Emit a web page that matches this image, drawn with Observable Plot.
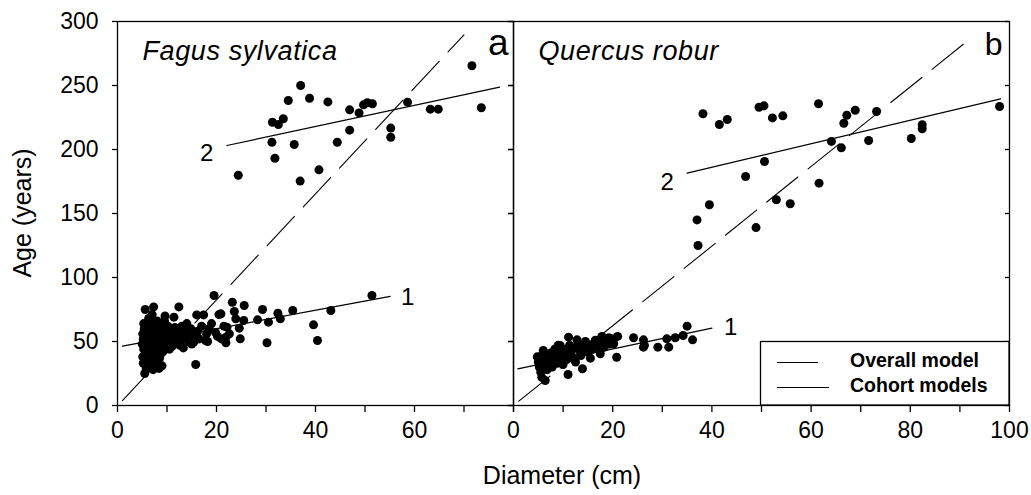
<!DOCTYPE html>
<html><head><meta charset="utf-8">
<script src="https://cdn.jsdelivr.net/npm/d3@7"></script>
<script src="https://cdn.jsdelivr.net/npm/@observablehq/plot@0.6"></script>
<style>
body{margin:0;background:#fff;}
#wrap{position:relative;width:1031px;height:495px;font-family:"Liberation Sans",Arial,sans-serif;}
#wrap > *{position:absolute;top:0;}
.species text{letter-spacing:0.6px;}
</style></head><body><div id="wrap"></div>
<script>
// ---- tick values ----
const ageTicks = [0, 50, 100, 150, 200, 250, 300];
const fagusXTicks = [0, 10, 20, 30, 40, 50, 60, 70, 80];
const fagusXLabels = [0, 20, 40, 60];
const quercusXTicks = [0, 10, 20, 30, 40, 50, 60, 70, 80, 90, 100];
const quercusXLabels = [0, 20, 40, 60, 80, 100];

// ---- Fagus sylvatica: [diameter cm, age years] ----
const fagusCohort1 = [
  [5.2,33],[5.1,38],[5.3,44],[5.0,48],[5.2,52],[5.1,56],[5.4,60],[5.3,64],[5.6,75],[5.5,25],
  [5.8,29],[5.9,36],[5.7,41],[6.0,47],[5.8,51],[6.1,55],[6.0,58],[6.2,63],[6.3,68],[6.5,31],
  [6.6,39],[6.4,43],[6.7,49],[6.5,53],[6.8,57],[6.9,61],[6.6,66],[7.0,71],[7.2,28],[7.1,34],
  [7.3,45],[7.4,50],[7.2,54],[7.5,59],[7.3,77],[7.6,63],[7.8,33],[7.9,40],[8.0,46],[7.8,52],
  [8.1,56],[8.2,61],[8.0,66],[8.4,29],[8.5,37],[8.3,43],[8.6,49],[8.7,54],[8.5,58],[8.8,64],
  [9.0,31],[9.1,42],[9.2,47],[9.0,51],[9.3,55],[9.4,60],[9.6,70],[9.5,66],[9.8,45],[10.0,50],
  [9.9,53],[10.1,57],[10.2,62],[10.4,48],[10.5,44],[10.6,54],[10.8,59],[11.0,46],[11.2,51],[11.4,69],
  [11.1,56],[11.6,61],[11.8,49],[12.0,53],[12.4,77],[12.2,58],[12.6,47],[12.8,55],[13.0,62],[13.3,45],
  [13.5,52],[13.8,58],[14.0,64],[14.3,50],[14.5,56],[14.8,60],[15.0,48],[15.4,49.5],[15.8,32],[15.6,54],
  [16.0,70.8],[16.2,58],[16.5,52],[17.0,62],[17.4,70.8],[17.8,50.8],[18.0,56],[18.5,60],[18.2,50],[19.0,64],
  [19.5,85.9],[19.8,57],[20.2,54],[20.9,71.6],[20.5,71],[21.0,52],[21.5,62],[21.9,53.4],[21.9,49],[22.1,61.2],
  [22.6,56],[23.2,80.7],[23.6,73.4],[23.9,67.7],[24.6,60.4],[24.8,52.1],[25.5,66.4],[25.6,78.1],[28.3,66.9],[29.3,75],
  [30.2,49],[30.5,65.1],[32.4,72.1],[32.9,67.7],[35.4,74.2],[39.6,63],[40.4,50.8],[43.1,74.2],[51.4,85.9]
];
const fagusCohort2 = [
  [24.4,179.9],[31.2,205.7],[31.8,193.2],[31.3,221.3],[32.5,219.5],[33.5,224],[34.5,238.3],[35.7,203.9],
  [36.9,175.3],[37.0,250],[38.8,240],[40.7,184.1],[42.5,237.2],[44.4,205.7],[46.9,231],[46.9,215.1],
  [48.8,228.6],[49.7,234.9],[50.5,236.5],[51.5,235.7],[55.2,216.7],[55.2,209.6],[58.6,237],[63.2,231.5],
  [64.8,231.5],[71.6,265.4],[73.5,232.6]
];
const fagusOverall = [[1.0,3.9],[70.0,289.6]];
const fagusModel1 = [[1.0,46.4],[55.1,85.2]];
const fagusModel2 = [[22.1,203.1],[77.2,248.7]];
const fagusLabels = [[58.6,84.6,"1"],[18.0,197,"2"]];

// ---- Quercus robur: [diameter cm, age years] ----
const quercusCohort1 = [
  [4.8,38],[5.0,34],[5.2,30],[5.5,26],[5.7,22],[6.4,19.5],[5.9,40],[6.2,36],[6.5,32],[6.8,28],
  [6.0,43],[7.0,38],[7.3,34],[7.5,41],[7.8,30],[8.0,36],[8.3,44],[8.6,39],[8.8,33],[9.0,47],
  [9.4,46.9],[9.2,42],[9.6,37],[10.0,32],[10.2,44],[10.5,40],[10.8,36],[11.0,24.2],[11.1,53.4],[11.3,47],
  [11.6,42],[11.9,38],[12.2,45],[12.8,51.3],[12.5,34],[13.0,48],[13.3,43],[13.6,39],[13.9,28.7],[14.2,46],
  [14.5,50],[14.8,42],[15.2,47],[15.5,37],[15.8,44],[16.1,48.2],[16.5,51],[17.0,45],[17.4,49.5],[17.5,40.4],
  [17.8,54],[18.3,45.6],[18.6,50],[19.2,52.9],[19.5,48],[20.2,48.2],[20.2,52.1],[20.8,37.7],[21.0,54],[24.2,52.9],
  [26.2,51.3],[26.2,45.6],[26.4,47],[29.1,45.6],[30.9,52.1],[31.3,45.6],[32.6,52.9],[34.2,54.7],[35.0,62],[36.1,51.3]
];
const quercusCohort2 = [
  [38.2,227.9],[41.5,219.5],[43.1,223.4],[49.5,233],[50.5,234.1],[52.2,224.7],[54.3,226.3],[61.5,235.7],
  [67.2,226.8],[66.6,220.5],[68.9,230.7],[73.2,229.7],[82.4,219.3],[82.4,216.2],[98.0,233.6],[64.1,206.3],
  [66.1,201.3],[71.6,207],[80.2,208.6],[50.6,190.6],[46.8,178.9],[61.6,173.7],[53.0,160.7],[55.8,157.6],
  [39.5,156.8],[37.0,145],[48.9,139],[37.2,125]
];
const quercusOverall = [[1.07,3.4],[92.7,288.5]];
const quercusModel1 = [[0.87,28.6],[40.0,60.4]];
const quercusModel2 = [[35.0,181.5],[98.2,239.6]];
const quercusLabels = [[43.8,61,"1"],[31.0,174.5,"2"]];

const FONT = "Liberation Sans, Arial, sans-serif";
const X = d => d[0], Y = d => d[1];

function panel(o) {
  return Plot.plot({
    width: o.width, height: 450,
    marginLeft: o.marginLeft, marginRight: o.marginRight, marginTop: 21, marginBottom: 45,
    style: {background: "transparent", overflow: "visible", fontFamily: FONT, color: "black"},
    x: {domain: o.xDomain},
    y: {domain: [0, 300]},
    marks: [
      Plot.axisX({ticks: o.xTicks, tickSize: 7, tickPadding: 9, fontSize: 23, strokeWidth: 1.3,
        tickFormat: d => o.xLabels.includes(d) ? String(d) : "", label: null}),
      Plot.axisY({anchor: "left", ticks: ageTicks, tickSize: 5, tickPadding: 14, fontSize: 23, strokeWidth: 1.3,
        tickFormat: d => o.yLabels ? String(d) : "", label: null}),
      Plot.axisY({anchor: "right", ticks: ageTicks, tickSize: 5, dx: -5, strokeWidth: 1.3,
        tickFormat: () => "", label: null}),
      Plot.line(o.overall, {x: X, y: Y, stroke: "black", strokeWidth: 1.1, strokeDasharray: "40,13"}),
      Plot.line(o.model1, {x: X, y: Y, stroke: "black", strokeWidth: 1.2}),
      Plot.line(o.model2, {x: X, y: Y, stroke: "black", strokeWidth: 1.2}),
      Plot.dot(o.c1, {x: X, y: Y, r: 4.5, fill: "black", stroke: "none"}),
      Plot.dot(o.c2, {x: X, y: Y, r: 4.5, fill: "black", stroke: "none"}),
      Plot.text(o.labels, {x: X, y: Y, text: d => d[2], fontSize: 24, fill: "black"}),
      Plot.text([o.species], {frameAnchor: "top-left", textAnchor: "start", lineAnchor: "top",
        dx: 25, dy: 19, fontSize: 27, fontStyle: "italic", fill: "black", className: "species"}),
      Plot.text([o.letter], {frameAnchor: "top-right", textAnchor: "end", lineAnchor: "top",
        dx: o.letterDx, dy: o.letterDy, fontSize: o.letterSize, fill: "black"}),
      Plot.frame({stroke: "black", strokeWidth: 1.3})
    ]
  });
}

const wrap = document.getElementById("wrap");
const left = panel({width: 513, marginLeft: 117, marginRight: 0, xDomain: [0, 80],
  xTicks: fagusXTicks, xLabels: fagusXLabels, yLabels: true,
  overall: fagusOverall, model1: fagusModel1, model2: fagusModel2,
  c1: fagusCohort1, c2: fagusCohort2, labels: fagusLabels,
  species: "Fagus sylvatica", letter: "a", letterSize: 37, letterDx: -5, letterDy: 7});
left.style.left = "0px";
const right = panel({width: 558, marginLeft: 40, marginRight: 22, xDomain: [0, 100],
  xTicks: quercusXTicks, xLabels: quercusXLabels, yLabels: false,
  overall: quercusOverall, model1: quercusModel1, model2: quercusModel2,
  c1: quercusCohort1, c2: quercusCohort2, labels: quercusLabels,
  species: "Quercus robur", letter: "b", letterSize: 32, letterDx: -7, letterDy: 11});
right.style.left = "473px";
wrap.appendChild(left);
wrap.appendChild(right);

// ---- axis titles and legend ----
const ns = "http://www.w3.org/2000/svg";
const ov = document.createElementNS(ns, "svg");
ov.setAttribute("width", 1031); ov.setAttribute("height", 495);
ov.style.left = "0px"; ov.style.pointerEvents = "none"; ov.style.fontFamily = FONT;
function el(tag, attrs, text) {
  const e = document.createElementNS(ns, tag);
  for (const k in attrs) e.setAttribute(k, attrs[k]);
  if (text != null) e.textContent = text;
  ov.appendChild(e); return e;
}
el("text", {x: 562, y: 484, "text-anchor": "middle", "font-size": 25}, "Diameter (cm)");
el("text", {x: 0, y: 0, "text-anchor": "middle", "font-size": 25, transform: "translate(31,213) rotate(-90)"}, "Age (years)");
el("rect", {x: 760.5, y: 341.5, width: 248.5, height: 63.5, fill: "white", stroke: "black", "stroke-width": 1.3});
el("line", {x1: 777, x2: 831, y1: 362.5, y2: 362.5, stroke: "black", "stroke-width": 1.1, "stroke-dasharray": "41,13"});
el("line", {x1: 777, x2: 829, y1: 387.5, y2: 387.5, stroke: "black", "stroke-width": 1.2});
el("text", {x: 850, y: 367, "font-size": 19.5, "font-weight": "bold"}, "Overall model");
el("text", {x: 850, y: 392, "font-size": 19.5, "font-weight": "bold"}, "Cohort models");
wrap.appendChild(ov);
</script>
</body></html>
